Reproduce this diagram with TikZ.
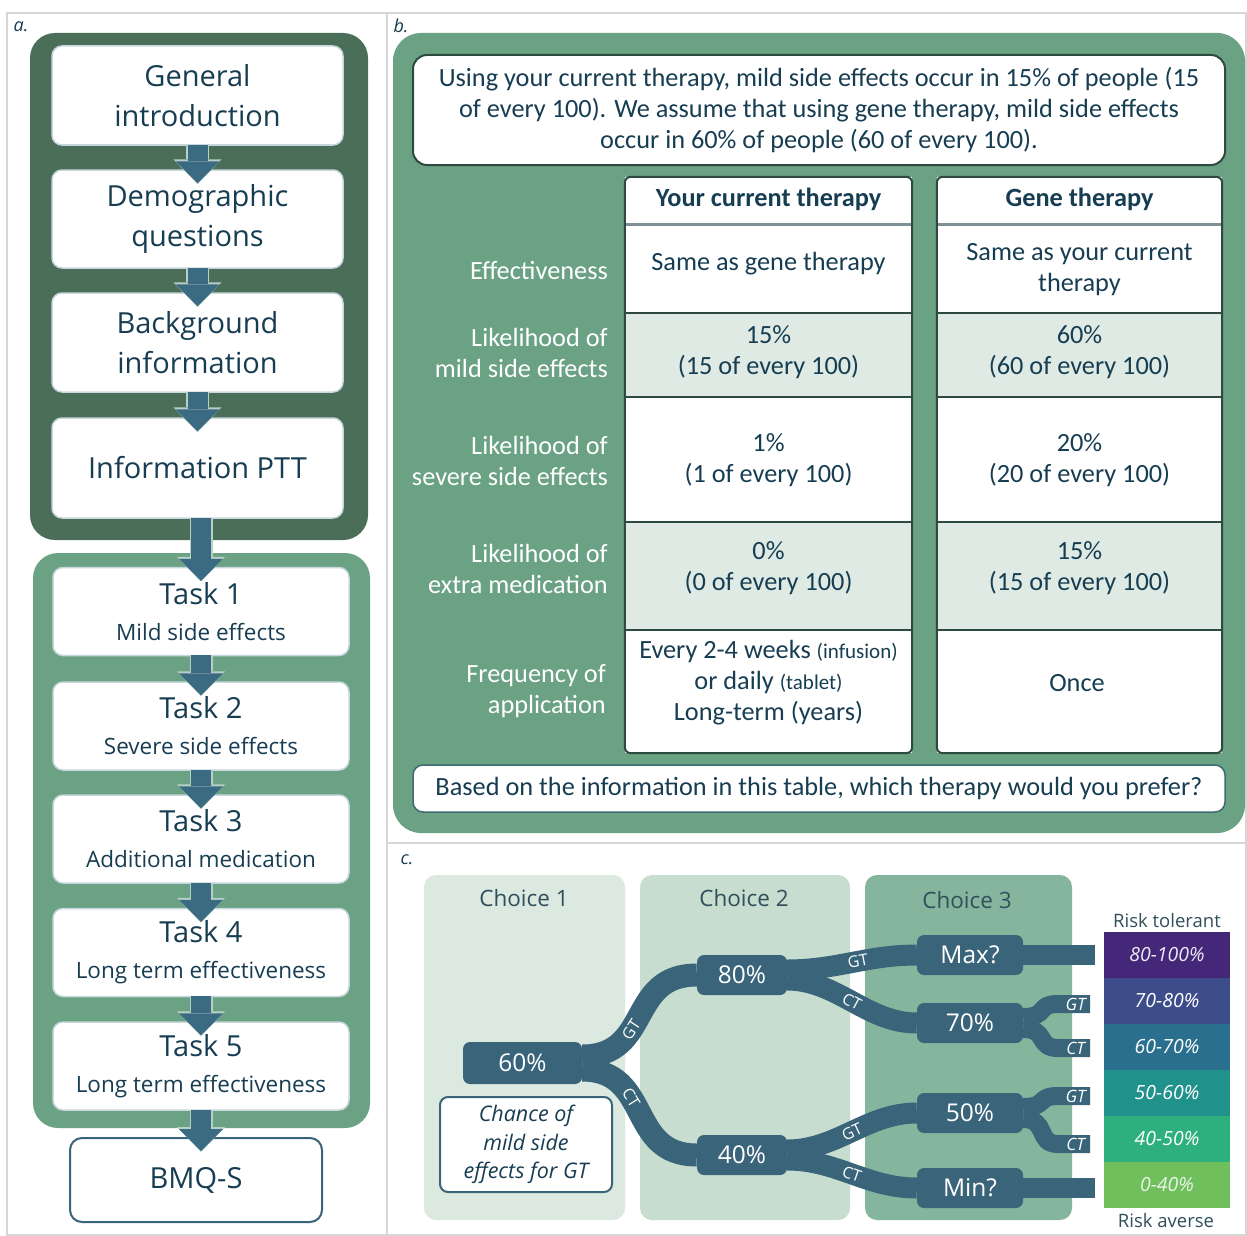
\documentclass[tikz,border=0pt]{standalone}
\usepackage{fontspec}
\setmainfont{Carlito}
\newfontfamily\osans{Open Sans}
\usetikzlibrary{arrows.meta}
\newcommand\myfs[2]{\fontsize{#1}{#2}\selectfont}
\definecolor{dkgreen}{HTML}{4B6E58}
\definecolor{mdgreen}{HTML}{6AA283}
\definecolor{txtc}{HTML}{173D52}
\definecolor{arrc}{HTML}{3B6B82}
\definecolor{arro}{HTML}{B9CFC6}
\definecolor{rowc}{HTML}{DEEAE3}
\definecolor{colb}{HTML}{2E4A40}
\definecolor{hsep}{HTML}{7E9096}
\definecolor{qb}{HTML}{3E6B73}
\definecolor{treec}{HTML}{3A6479}
\definecolor{chA}{HTML}{DCE9E1}
\definecolor{chB}{HTML}{C6DDD0}
\definecolor{chC}{HTML}{86B59D}
\definecolor{framec}{HTML}{D6D6D6}
\definecolor{boxb}{HTML}{C8D6DE}
\definecolor{headc}{HTML}{304F5A}
\definecolor{vA}{HTML}{45277A}
\definecolor{vB}{HTML}{3D4C8A}
\definecolor{vC}{HTML}{2B6F8E}
\definecolor{vD}{HTML}{21918C}
\definecolor{vE}{HTML}{2DB07E}
\definecolor{vF}{HTML}{6FBF5C}
\begin{document}
\begin{tikzpicture}[x=1pt,y=-1pt,
  plabel/.style={font=\osans\itshape\myfs{18}{20}, text=txtc, inner sep=0pt},
  abox/.style={draw=boxb, line width=1.5pt, fill=white, rounded corners=10pt, minimum width=291pt, inner sep=0pt, align=center, text=txtc, font=\osans\myfs{29}{40}},
  tbox/.style={abox, minimum width=296pt, minimum height=88pt},
  bigarrO/.style={draw=arro, line width=23pt, -{Triangle[width=48pt,length=25pt,line width=0pt]}, shorten >=-15pt, shorten <=-1pt},
  bigarr/.style={draw=arrc, line width=20pt, -{Triangle[width=44pt,length=22pt,line width=0pt]}, shorten >=-14pt, shorten <=-1pt},
  bbox/.style={draw=colb, line width=2pt, fill=white, rounded corners=14pt, align=center, text=txtc, inner sep=0pt, font=\myfs{26.3}{31}},
  cellA/.style={fill=white, minimum width=287pt, inner sep=0pt},
  cellB/.style={fill=white, minimum width=285pt, inner sep=0pt},
  ctext/.style={align=center, text=txtc, font=\myfs{26.3}{31}, inner sep=0pt},
  rlab/.style={align=right, text=white, font=\myfs{26.3}{31}, anchor=east, inner sep=0pt},
  colc/.style={rounded corners=12pt, inner sep=0pt, minimum height=345pt},
  chead/.style={font=\osans\myfs{22.5}{26}, text=headc, inner sep=0pt},
  tnode/.style={fill=treec, text=white, rounded corners=7pt, font=\osans\myfs{24.5}{28}, inner sep=0pt, minimum height=40pt},
  branch/.style={draw=treec, line width=23pt},
  brl/.style={text=white, font=\osans\myfs{16}{17}, inner sep=0pt},
  stub/.style={draw=treec, line width=18pt},
  stubl/.style={text=white, font=\osans\itshape\myfs{17}{18}, inner sep=0pt},
  band/.style={minimum width=126pt, minimum height=46pt, inner sep=0pt, text=white, font=\osans\itshape\myfs{19.5}{22}},
  legt/.style={text=headc, font=\osans\myfs{18.5}{22}, inner sep=0pt}
]
\useasboundingbox (0,0) rectangle (1247,1236);
\fill[white] (0,0) rectangle (1247,1236);
\draw[framec, line width=2.5pt] (7,13) rectangle (1246,1235);
\draw[framec, line width=2.5pt] (387,13) -- (387,1235);
\draw[framec, line width=2.5pt] (387,843) -- (1246,843);

% ---------------- panel a
\node[plabel] (la) at (21,27) {a.};
\node[fill=dkgreen, rounded corners=25pt, minimum width=338pt, minimum height=507pt, inner sep=0pt] (dbox) at (199,286.5) {};
\node[abox, minimum height=99pt] (b1) at (197.5,95.5) {General\\introduction};
\node[abox, minimum height=98pt] (b2) at (197.5,219) {Demographic\\questions};
\node[abox, minimum height=99pt] (b3) at (197.5,342.5) {Background\\information};
\node[abox, minimum height=100pt] (b4) at (197.5,468) {Information PTT};

\node[fill=mdgreen, rounded corners=25pt, minimum width=337pt, minimum height=575pt, inner sep=0pt] (gbox) at (201.5,840.5) {};
\node[tbox] (t1) at (201,611.5) {Task 1\\[-4pt]{\myfs{22.5}{26}Mild side effects}};
\node[tbox] (t2) at (201,726) {Task 2\\[-4pt]{\myfs{22.5}{26}Severe side effects}};
\node[tbox] (t3) at (201,839) {Task 3\\[-4pt]{\myfs{22.5}{26}Additional medication}};
\node[tbox] (t4) at (201,952.5) {Task 4\\[-4pt]{\myfs{22.5}{26}Long term effectiveness}};
\node[tbox] (t5) at (201,1066) {Task 5\\[-4pt]{\myfs{22.5}{26}Long term effectiveness}};
\node[abox, draw=treec, line width=2pt, minimum width=252pt, minimum height=84pt, rounded corners=12pt] (bmq) at (196,1180) {BMQ-S};

\foreach \s in {bigarrO,bigarr}{
\draw[\s] (b1.south) -- (b1.south |- b2.north);
\draw[\s] (b2.south) -- (b2.south |- b3.north);
\draw[\s] (b3.south) -- (b3.south |- b4.north);
\draw[\s] (t1.north |- b4.south) -- (t1.north);
\draw[\s] (t1.south) -- (t2.north);
\draw[\s] (t2.south) -- (t3.north);
\draw[\s] (t3.south) -- (t4.north);
\draw[\s] (t4.south) -- (t5.north);
\draw[\s] (t5.south) -- (t5.south |- bmq.north);
}

% ---------------- panel b
\node[plabel] (lb) at (401,26) {b.};
\node[fill=mdgreen, rounded corners=28pt, minimum width=852pt, minimum height=800pt, inner sep=0pt] (bgb) at (819,433) {};
\node[bbox, minimum width=812pt, minimum height=110pt] (intro) at (819,110) {Using your current therapy, mild side effects occur in 15\% of people (15\\of every 100). We assume that using gene therapy, mild side effects\\occur in 60\% of people (60 of every 100).};

% column 1 cells
\node[cellA, minimum height=47pt] (h1) at (768.5,200.5) {};
\node[cellA, minimum height=89pt] (e1) at (768.5,268.5) {};
\node[cellA, minimum height=84pt, fill=rowc] (m1) at (768.5,355) {};
\node[cellA, minimum height=125pt] (s1) at (768.5,459.5) {};
\node[cellA, minimum height=108pt, fill=rowc] (x1) at (768.5,576) {};
\node[cellA, minimum height=123pt] (f1) at (768.5,691.5) {};
% column 2 cells
\node[cellB, minimum height=47pt] (h2) at (1079.5,200.5) {};
\node[cellB, minimum height=89pt] (e2) at (1079.5,268.5) {};
\node[cellB, minimum height=84pt, fill=rowc] (m2) at (1079.5,355) {};
\node[cellB, minimum height=125pt] (s2) at (1079.5,459.5) {};
\node[cellB, minimum height=108pt, fill=rowc] (x2) at (1079.5,576) {};
\node[cellB, minimum height=123pt] (f2) at (1079.5,691.5) {};

\foreach \c in {1,2}{
  \draw[hsep, line width=3pt] (h\c.south west) -- (h\c.south east);
  \draw[colb, line width=1.5pt] (e\c.south west) -- (e\c.south east);
  \draw[colb, line width=1.5pt] (m\c.south west) -- (m\c.south east);
  \draw[colb, line width=1.5pt] (s\c.south west) -- (s\c.south east);
  \draw[colb, line width=1.5pt] (x\c.south west) -- (x\c.south east);
  \draw[colb, line width=2pt, rounded corners=6pt] (h\c.north west) rectangle (f\c.south east);
}

\node[ctext] (th1) at (768.5,199) {\textbf{Your current therapy}};
\node[ctext] (te1) at (768.5,264) {Same as gene therapy};
\node[ctext] (tm1) at (768.5,352.5) {15\%\\(15 of every 100)};
\node[ctext] (ts1) at (768.5,460.5) {1\%\\(1 of every 100)};
\node[ctext] (tx1) at (768.5,568) {0\%\\(0 of every 100)};
\node[ctext] (tf1) at (768.5,683) {Every 2-4 weeks {\myfs{21}{31}(infusion)}\\or daily {\myfs{21}{31}(tablet)}\\Long-term (years)};

\node[ctext] (th2) at (1079.5,199) {\textbf{Gene therapy}};
\node[ctext] (te2) at (1079.5,269.5) {Same as your current\\therapy};
\node[ctext] (tm2) at (1079.5,352.5) {60\%\\(60 of every 100)};
\node[ctext] (ts2) at (1079.5,460.5) {20\%\\(20 of every 100)};
\node[ctext] (tx2) at (1079.5,568) {15\%\\(15 of every 100)};
\node[ctext] (tf2) at (1077,683) {Once};

\node[rlab] (lEff) at (608,271) {Effectiveness};
\node[rlab] (lMild) at (608,353) {Likelihood of\\mild side effects};
\node[rlab] (lSev) at (608,460.5) {Likelihood of\\severe side effects};
\node[rlab] (lExt) at (608,568.5) {Likelihood of\\extra medication};
\node[rlab] (lFreq) at (606,691.5) {Frequency of\\application};

\node[bbox, draw=qb, line width=1.5pt, rounded corners=10pt, minimum width=812pt, minimum height=47pt] (q) at (819,788.5) {Based on the information in this table, which therapy would you prefer?};

% ---------------- panel c
\node[plabel] (lc) at (407,860) {c.};
\node[colc, fill=chA, minimum width=201pt] (c1) at (524.5,1047.5) {};
\node[colc, fill=chB, minimum width=210pt] (c2) at (745,1047.5) {};
\node[colc, fill=chC, minimum width=207pt] (c3) at (968.5,1047.5) {};
\node[chead] (hc1) at (524,898) {Choice 1};
\node[chead] (hc2) at (744,898) {Choice 2};
\node[chead] (hc3) at (967,900) {Choice 3};

\node[tnode, minimum width=119pt, minimum height=42pt] (n60) at (522.5,1063) {60\%};
\node[tnode, minimum width=90pt] (n80) at (742,975) {80\%};
\node[tnode, minimum width=90pt] (n40) at (742,1155) {40\%};
\node[tnode, minimum width=106pt] (nmax) at (970,955) {Max?};
\node[tnode, minimum width=106pt] (n70) at (970,1023) {70\%};
\node[tnode, minimum width=106pt] (n50) at (970,1113) {50\%};
\node[tnode, minimum width=106pt] (nmin) at (970,1188) {Min?};

\node[draw=treec, line width=2pt, fill=white, rounded corners=8pt, minimum width=172pt, minimum height=95pt, inner sep=0pt, align=center, text=txtc, font=\osans\itshape\myfs{21.5}{28.5}] (chance) at (526,1144.5) {Chance of\\mild side\\effects for GT};

\draw[branch] ([yshift=7pt]n60.east) .. controls +(70,0) and +(-70,0) .. node[brl, sloped, pos=0.38] (g60) {GT} (n80.west);
\draw[branch] ([yshift=-7pt]n60.east) .. controls +(70,0) and +(-70,0) .. node[brl, sloped, pos=0.38] (k60) {CT} (n40.west);
\draw[branch, line width=21pt] ([yshift=5pt]n80.east) .. controls +(50,0) and +(-50,0) .. node[brl, sloped, pos=0.55] (g80) {GT} (nmax.west);
\draw[branch, line width=21pt] ([yshift=-5pt]n80.east) .. controls +(50,0) and +(-50,0) .. node[brl, sloped, pos=0.5] (k80) {CT} (n70.west);
\draw[branch, line width=21pt] ([yshift=5pt]n40.east) .. controls +(50,0) and +(-50,0) .. node[brl, sloped, pos=0.5] (g40) {GT} (n50.west);
\draw[branch, line width=21pt] ([yshift=-5pt]n40.east) .. controls +(50,0) and +(-50,0) .. node[brl, sloped, pos=0.5] (k40) {CT} (nmin.west);

\coordinate (emax) at (1095,955);
\coordinate (emin) at (1095,1188);
\coordinate (g70) at (1090,1004);
\coordinate (k70) at (1090,1048);
\coordinate (g50) at (1090,1096);
\coordinate (k50) at (1090,1144);
\draw[stub, line width=20pt] (nmax.east) -- (emax);
\draw[stub, line width=20pt] (nmin.east) -- (emin);
\draw[stub] ([yshift=6pt]n70.east) .. controls +(25,0) and +(-22,0) .. ([xshift=-32pt]g70) -- node[stubl, pos=0.55] (lg70) {GT} (g70);
\draw[stub] ([yshift=-6pt]n70.east) .. controls +(25,0) and +(-22,0) .. ([xshift=-32pt]k70) -- node[stubl, pos=0.55] (lk70) {CT} (k70);
\draw[stub] ([yshift=6pt]n50.east) .. controls +(25,0) and +(-22,0) .. ([xshift=-32pt]g50) -- node[stubl, pos=0.55] (lg50) {GT} (g50);
\draw[stub] ([yshift=-6pt]n50.east) .. controls +(25,0) and +(-22,0) .. ([xshift=-32pt]k50) -- node[stubl, pos=0.55] (lk50) {CT} (k50);

% legend
\node[legt] (rt) at (1167,921) {Risk tolerant};
\node[band, fill=vA, text=white!90!vA] (v1) at (1167,955) {80-100\%};
\node[band, fill=vB] (v2) at (1167,1001) {70-80\%};
\node[band, fill=vC] (v3) at (1167,1047) {60-70\%};
\node[band, fill=vD] (v4) at (1167,1093) {50-60\%};
\node[band, fill=vE] (v5) at (1167,1139) {40-50\%};
\node[band, fill=vF, text=white!85!vF] (v6) at (1167,1185) {0-40\%};
\node[legt] (ra) at (1166,1221) {Risk averse};
\end{tikzpicture}
\end{document}
